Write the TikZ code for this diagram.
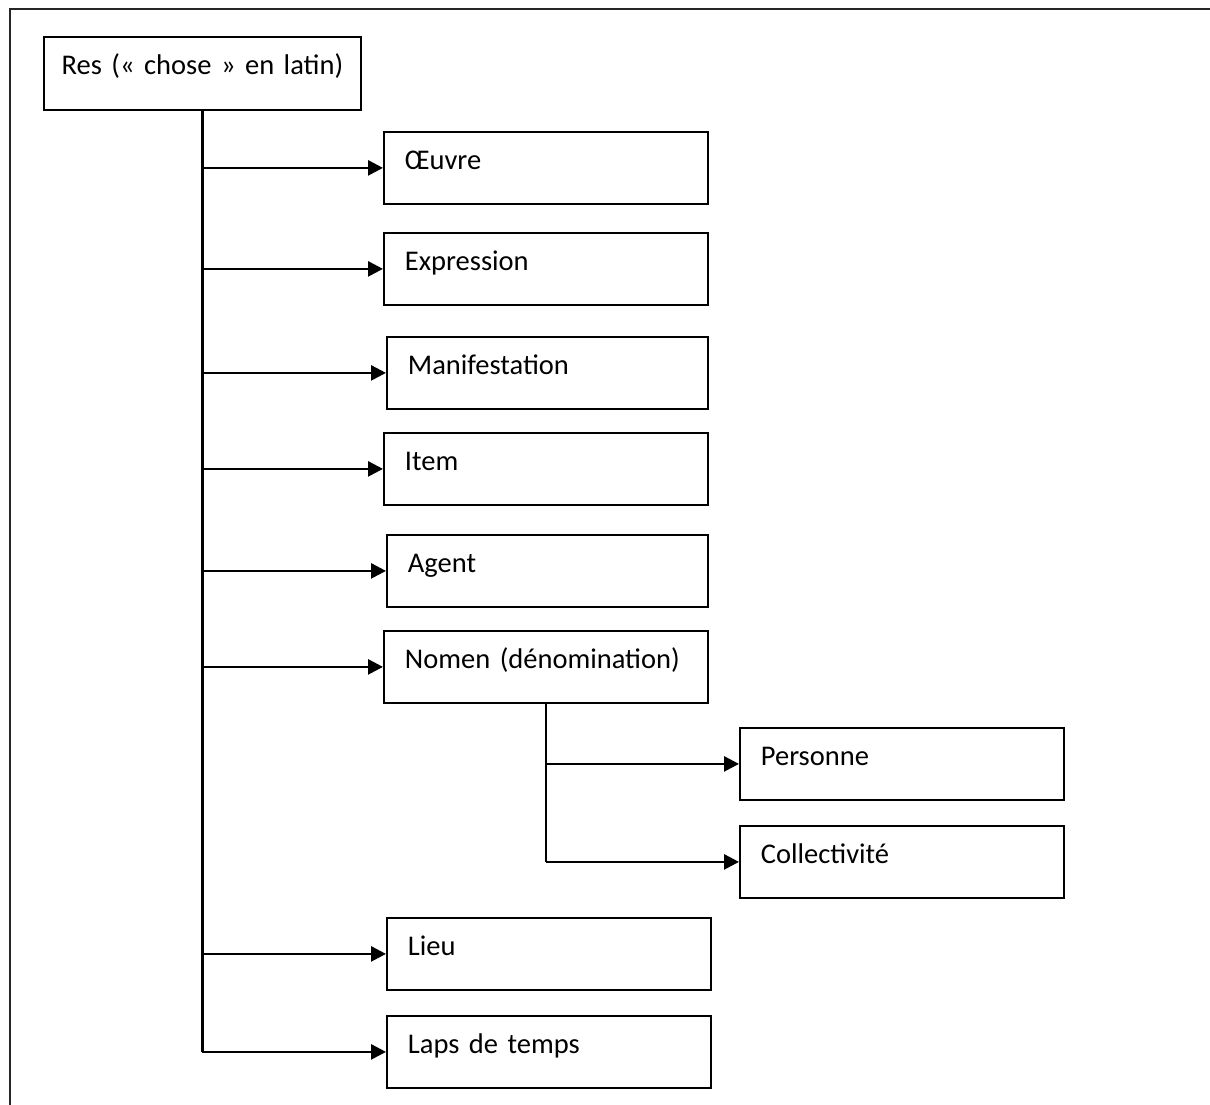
\documentclass[tikz,border=0pt]{standalone}
\usepackage{fontspec}
\setmainfont[WordSpace={0.75,0,0}]{Carlito}
\usetikzlibrary{arrows.meta}
\begin{document}
\begin{tikzpicture}[x=1pt,y=-1pt,
  box/.style={draw, line width=1.8pt, anchor=north west, inner xsep=21pt, inner ysep=0pt,
    minimum height=72pt, text width=#1, align=left, text height=0.7em, text depth=0.4em,
    font=\fontsize{28.5}{34}\selectfont},
  box/.default=282pt,
  conn/.style={line width=2.6pt, -{Triangle[length=15pt,width=15pt]}},
  trunk/.style={line width=3pt}
]
\useasboundingbox (0,0) rectangle (1210,1105);
\draw[line width=2pt, black!85] (10,1105) -- (10,9) -- (1210,9);

\node[box=301pt, inner xsep=8pt, align=center, minimum height=73pt] (res) at (43,36) {Res (« chose » en latin)};

\node[box] (oeuvre) at (383,131) {Œuvre};
\node[box] (expression) at (383,232) {Expression};
\node[box=279pt] (manif) at (386,336) {Manifestation};
\node[box] (item) at (383,432) {Item};
\node[box=279pt] (agent) at (386,534) {Agent};
\node[box] (nomen) at (383,630) {Nomen (dénomination)};
\node[box] (personne) at (739,727) {Personne};
\node[box] (collectivite) at (739,825) {Collectivité};
\node[box] (lieu) at (386,917) {Lieu};
\node[box] (laps) at (386,1015) {Laps de temps};

\draw[trunk] (res.south) -- (res.south |- laps.west);
\foreach \n in {oeuvre,expression,manif,item,agent,nomen,lieu}
  \draw[conn] (res.south |- \n.west) -- (\n.west);
\draw[conn] (res.south |- laps.west) -- (laps.west);

\draw[line width=2.6pt] (nomen.south) -- (nomen.south |- collectivite.west);
\draw[conn] (nomen.south |- personne.west) -- (personne.west);
\draw[conn] (nomen.south |- collectivite.west) -- (collectivite.west);
\end{tikzpicture}
\end{document}
